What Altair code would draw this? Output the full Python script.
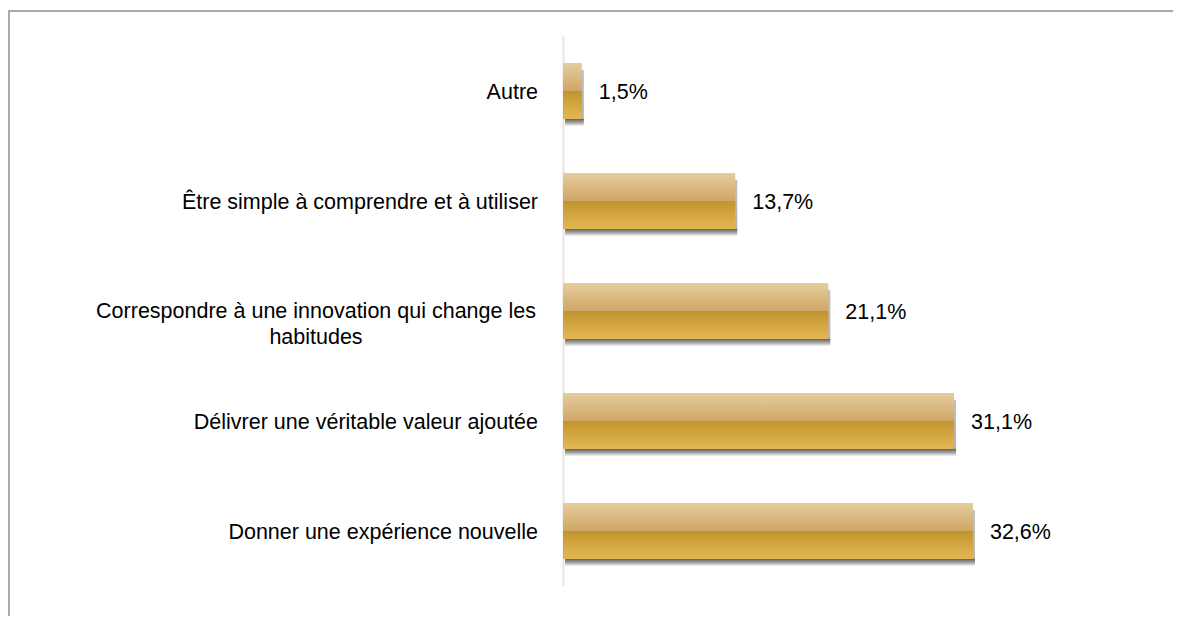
import altair as alt
import pandas as pd

categories = [
    "Autre",
    "Être simple à comprendre et à utiliser",
    "Correspondre à une innovation qui change les\nhabitudes",
    "Délivrer une véritable valeur ajoutée",
    "Donner une expérience nouvelle",
]
values = [1.5, 13.7, 21.1, 31.1, 32.6]
value_labels = ["1,5%", "13,7%", "21,1%", "31,1%", "32,6%"]

df = pd.DataFrame({
    "cat": categories,
    "value": values,
    "vlabel": value_labels,
    "wrapped": ["\n" in c for c in categories],
})

FONT = "Liberation Sans"
FS = 21.5

y_enc = alt.Y(
    "cat:N",
    sort=categories,
    scale=alt.Scale(paddingInner=0.49, paddingOuter=0.245),
    axis=alt.Axis(labels=False, ticks=False, grid=False, title=None,
                  domainColor="#e9e4df", domainWidth=2),
)
x_enc = alt.X("value:Q", scale=alt.Scale(domain=[0, 40]), axis=None)

bar_grad = alt.Gradient(
    gradient="linear", x1=0, x2=0, y1=0, y2=1,
    stops=[
        alt.GradientStop(offset=0, color="#e6cd9f"),
        alt.GradientStop(offset=0.5, color="#cfa665"),
        alt.GradientStop(offset=0.5, color="#c2942e"),
        alt.GradientStop(offset=1, color="#e3b854"),
    ],
)
shadow_grad = alt.Gradient(
    gradient="linear", x1=0, x2=0, y1=0, y2=1,
    stops=[
        alt.GradientStop(offset=0, color="#b0b0b0"),
        alt.GradientStop(offset=0.86, color="#a0a0a0"),
        alt.GradientStop(offset=0.88, color="#404040"),
        alt.GradientStop(offset=0.95, color="#a0a0a0"),
        alt.GradientStop(offset=1, color="#f6f6f6"),
    ],
)

base = alt.Chart(df)

shadow = base.mark_bar(color=shadow_grad, xOffset=2, yOffset=7, opacity=0.8).encode(
    x=x_enc, y=y_enc
)
bars = base.mark_bar(color=bar_grad).encode(x=x_enc, y=y_enc)

vals = base.mark_text(align="left", baseline="middle", dx=17, dy=2, font=FONT,
                      fontSize=FS, color="#000000").encode(
    x=x_enc, y=alt.Y("cat:N", sort=categories), text="vlabel:N"
)

cat_single = base.transform_filter("!datum.wrapped").mark_text(
    align="right", baseline="middle", font=FONT, fontSize=FS, color="#000000",
    dy=2,
).encode(x=alt.value(-25), y=alt.Y("cat:N", sort=categories), text="cat:N")

cat_wrapped = base.transform_filter("datum.wrapped").mark_text(
    align="center", baseline="middle", font=FONT, fontSize=FS, color="#000000",
    lineBreak="\n", lineHeight=26, dy=1,
).encode(x=alt.value(-247), y=alt.Y("cat:N", sort=categories), text="cat:N")

frame_top = alt.Chart(df).mark_rule(color="#a9a9a9", strokeWidth=2).encode(
    x=alt.value(-555), x2=alt.value(700), y=alt.value(-25)
)
frame_left = alt.Chart(df).mark_rule(color="#a9a9a9", strokeWidth=2).encode(
    x=alt.value(-554), y=alt.value(-26), y2=alt.value(700)
)

chart = alt.layer(
    frame_top, frame_left, shadow, bars, vals, cat_single, cat_wrapped
).properties(
    width=503, height=550,
    padding={"left": 555, "top": 28, "right": 107, "bottom": 30},
    autosize=alt.AutoSizeParams(type="none"),
    background="#ffffff",
).configure_view(stroke=None)

chart.save("out.html", embed_options={"renderer": "svg", "actions": False})
